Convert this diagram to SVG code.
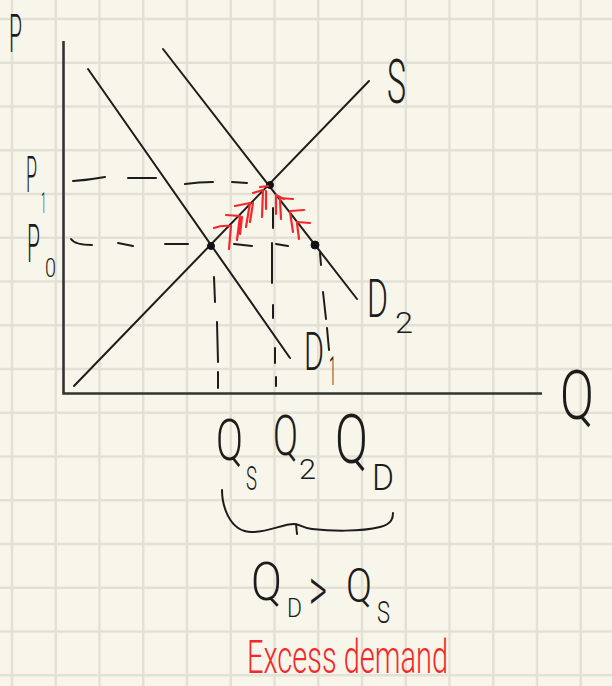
<svg xmlns="http://www.w3.org/2000/svg" width="612" height="686" viewBox="0 0 612 686">
<defs>
<style>
.grid{stroke:#e3e1d6;stroke-width:2.5;fill:none}
.ink{stroke:#1c1c1c;stroke-width:2;fill:none;stroke-linecap:round;stroke-linejoin:round}
.axis{stroke:#333;stroke-width:2.6;fill:none}
.red{stroke:#f4282a;stroke-width:2.2;fill:none;stroke-linecap:round;stroke-linejoin:round}
.t{font-family:Roboto,"Liberation Sans",sans-serif;font-weight:300;fill:#1c1c1c}
.tr{font-family:Roboto,"Liberation Sans",sans-serif;font-weight:300;fill:#f4282a}
</style>
</defs>
<rect width="612" height="686" fill="#f8f6ea"/>
<g id="grid" class="grid">
<path d="M12 0V686M55.75 0V686M99.5 0V686M143.25 0V686M187 0V686M230.75 0V686M274.5 0V686M318.25 0V686M362 0V686M405.75 0V686M449.5 0V686M493.25 0V686M537 0V686M580.75 0V686"/>
<path d="M0 19H612M0 62.75H612M0 106.5H612M0 150.25H612M0 194H612M0 237.75H612M0 281.5H612M0 325.25H612M0 369H612M0 412.75H612M0 456.5H612M0 500.25H612M0 544H612M0 587.75H612M0 631.5H612M0 675.25H612"/>
</g>
<g id="axes" class="axis">
<path d="M63.5 41V393.5H542"/>
</g>
<g id="connectors">
<path id="supply" class="ink" d="M74 386L369 81"/>
<path id="demand1" class="ink" d="M88 69L290 358"/>
<path id="demand2" class="ink" d="M163 49L357 299"/>
<path id="dashes" class="ink" d="M73 181Q89 180 105 177M128 178L156 178M185 184Q199 182 213 182M232 182L247 183M71 239Q75 245 92 245M118 243L133 246M165 244L188 244M234 244L252 246M276 244L288 246M214 277L215 302M217 322L218 362M218 372L218 388M273 208L273 228M272 243L272 283M273 305L273 318M275 348L275 363M276 377L276 386M320 253L321 265M323 292L326 319M327 328L329 350"/>
<path id="brace" class="ink" d="M222 490C222 503 228 532 252 532C270 532 282 524 294 524C300 524 302 528 312 529C330 531 360 532 380 527C392 524 393 518 393 513M296 524L297 534"/>
</g>
<g id="points" fill="#111" stroke="#111" stroke-width="1">
<circle cx="211" cy="246" r="3.5"/>
<circle cx="270" cy="185" r="3.5"/>
<circle cx="315" cy="245" r="4"/>
</g>
<g id="excess-hatch" class="red">
<path d="M214 228Q222 225 231 226L229 249M226 215L240 216L237 240M242 217L240 234M235 206L250 203L246 227M253 203L250 222M253 193L263 190L262 217M266 191L266 209M260 187L268 186"/>
<path d="M276 195L276 214M276 195L284 199M280 198L293 199M280 199L281 219M290 211L304 210M290 212L293 232M297 222L310 223M297 223L299 239"/>
</g>
<g id="label-P"><text class="t" x="9" y="52" font-size="54" textLength="13" lengthAdjust="spacingAndGlyphs">P</text></g>
<g id="label-P1"><text class="t"><tspan x="26" y="192" font-size="50" textLength="11" lengthAdjust="spacingAndGlyphs">P</tspan><tspan x="41" y="213" font-size="30" textLength="5" lengthAdjust="spacingAndGlyphs">1</tspan></text></g>
<g id="label-P0"><text class="t"><tspan x="27" y="262" font-size="54" textLength="13" lengthAdjust="spacingAndGlyphs">P</tspan><tspan x="45" y="277" font-size="26" textLength="11" lengthAdjust="spacingAndGlyphs">0</tspan></text></g>
<g id="label-S"><text class="t" x="387" y="103" font-size="62" textLength="19" lengthAdjust="spacingAndGlyphs">S</text></g>
<g id="label-D2"><text class="t"><tspan x="367" y="317" font-size="54" textLength="21" lengthAdjust="spacingAndGlyphs">D</tspan><tspan x="395" y="333" font-size="30" textLength="18" lengthAdjust="spacingAndGlyphs">2</tspan></text></g>
<g id="label-D1"><text class="t"><tspan x="304" y="370" font-size="53" textLength="20" lengthAdjust="spacingAndGlyphs">D</tspan><tspan x="329" y="385" font-size="40" textLength="7" lengthAdjust="spacingAndGlyphs">1</tspan></text></g>
<g id="label-Q"><text class="t" x="560" y="419" font-size="68" textLength="34" lengthAdjust="spacingAndGlyphs">Q</text></g>
<g id="label-QS"><text class="t"><tspan x="216" y="460" font-size="58" textLength="27" lengthAdjust="spacingAndGlyphs">Q</tspan><tspan x="246" y="490" font-size="34" textLength="11" lengthAdjust="spacingAndGlyphs">S</tspan></text></g>
<g id="label-Q2"><text class="t"><tspan x="273" y="455" font-size="56" textLength="25" lengthAdjust="spacingAndGlyphs">Q</tspan><tspan x="299" y="479" font-size="28" textLength="17" lengthAdjust="spacingAndGlyphs">2</tspan></text></g>
<g id="label-QD"><text class="t"><tspan x="335" y="463" font-size="68" textLength="33" lengthAdjust="spacingAndGlyphs">Q</tspan><tspan x="372" y="490" font-size="36" textLength="22" lengthAdjust="spacingAndGlyphs">D</tspan></text></g>
<g id="label-inequality"><text class="t"><tspan x="251" y="600" font-size="54" textLength="31" lengthAdjust="spacingAndGlyphs">Q</tspan><tspan x="287" y="617" font-size="26" textLength="15" lengthAdjust="spacingAndGlyphs">D</tspan><tspan x="309" y="611" font-size="62" textLength="18" lengthAdjust="spacingAndGlyphs">&gt;</tspan><tspan x="346" y="602" font-size="48" textLength="26" lengthAdjust="spacingAndGlyphs">Q</tspan><tspan x="377" y="623" font-size="32" textLength="13" lengthAdjust="spacingAndGlyphs">S</tspan></text></g>
<g id="label-excess"><text class="tr" x="247" y="673" font-size="46" textLength="201" lengthAdjust="spacingAndGlyphs">Excess demand</text></g>
</svg>
